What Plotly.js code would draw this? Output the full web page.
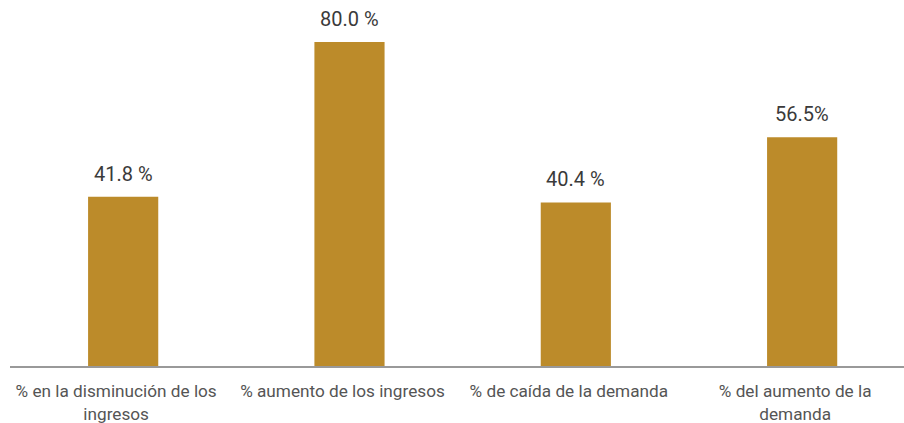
<!DOCTYPE html>
<html>
<head>
<meta charset="utf-8">
<script src="https://cdn.plot.ly/plotly-3.0.1.min.js"></script>
<style>html,body{margin:0;padding:0;background:#fff;}#chart{width:904px;height:423px;}</style>
</head>
<body>
<div id="chart"></div>
<script>
const categories = [
  "% en la disminución de los<br>ingresos",
  "% aumento de los ingresos",
  "% de caída de la demanda",
  "% del aumento de la<br>demanda"
];
const values = [41.8, 80.0, 40.4, 56.5];
const valueLabels = ["41.8 %", "80.0 %", "40.4 %", "56.5%"];

const trace = {
  type: "bar",
  x: [0, 1, 2, 3],
  y: values,
  width: 0.31,
  marker: {color: "#BC8B2A"},
  hoverinfo: "none"
};

const annotations = values.map((v, i) => ({
  x: i, y: v, text: valueLabels[i], showarrow: false,
  xref: "x", yref: "y", yanchor: "bottom", yshift: 9,
  font: {family: "Roboto, sans-serif", size: 20, color: "#3a3a3a"}
}));

const layout = {
  width: 904, height: 423,
  margin: {l: 10, r: 0, t: 0, b: 57},
  paper_bgcolor: "#fff", plot_bgcolor: "#fff",
  showlegend: false,
  xaxis: {
    range: [-0.5, 3.45],
    tickmode: "array", tickvals: [0, 1, 2, 3], ticktext: categories,
    showgrid: false, zeroline: false,
    showline: true, linecolor: "#999", linewidth: 1.5,
    ticks: "", ticklen: 0,
    ticklabelstandoff: 9,
    ticklabelshift: -7,
    tickfont: {family: "Roboto, sans-serif", size: 17.2, color: "#555"}
  },
  yaxis: {
    range: [0, 90.37], visible: false, showgrid: false, zeroline: false
  },
  annotations: annotations
};

Plotly.newPlot("chart", [trace], layout, {displayModeBar: false, staticPlot: true});
</script>
</body>
</html>
